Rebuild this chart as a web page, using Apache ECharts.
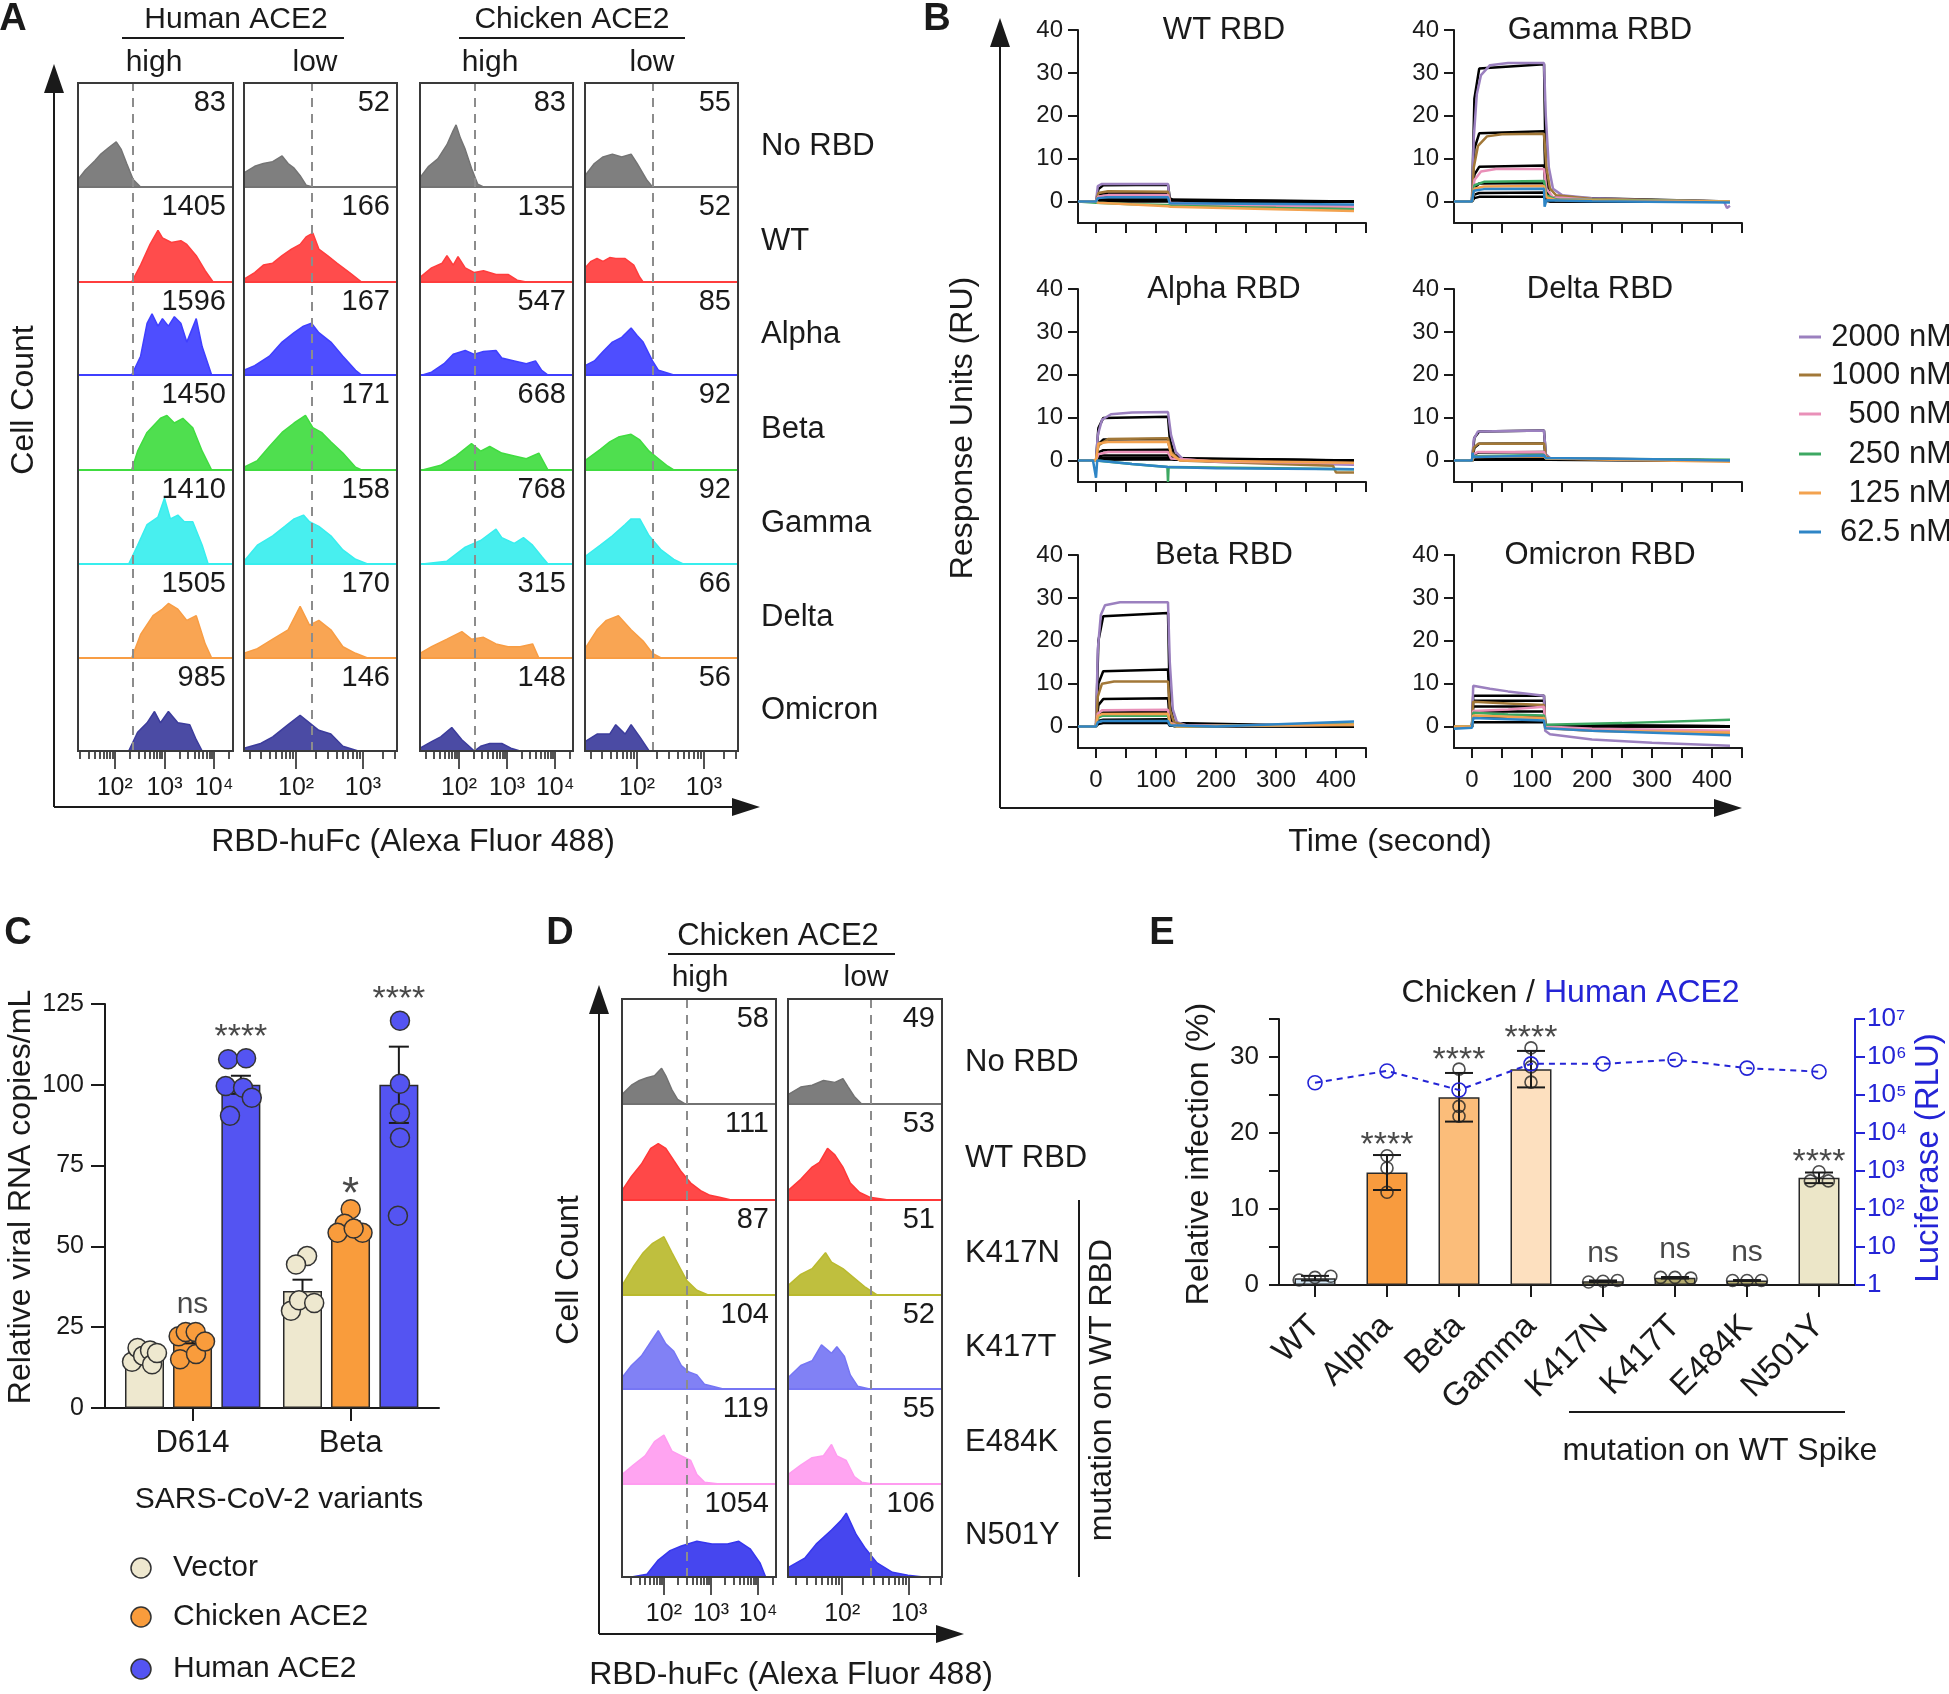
<!DOCTYPE html>
<html>
<head>
<meta charset="utf-8">
<title>ACE2 binding and infection</title>
<script src="https://cdn.jsdelivr.net/npm/echarts@6.0.0/dist/echarts.min.js"></script>
<style>
  html, body { margin: 0; padding: 0; background: #fff; }
  #main { width: 1949px; height: 1694px; }
</style>
</head>
<body>
<div id="main"></div>
<script>
// ================= data =================
// Panel A: flow cytometry, x in log10 of fluorescence, y in % of row height
const A_rows = ['No RBD', 'WT', 'Alpha', 'Beta', 'Gamma', 'Delta', 'Omicron'];
const A_colors = ['#747474', '#ff3d3d', '#3f3fff', '#40dc40', '#38eeee', '#f89d44', '#3c3c9c'];
const A_gates = [2.37, 2.24, 2.33, 2.24];
const A_mfiHumanHigh = [83, 1405, 1596, 1450, 1410, 1505, 985];
const A_mfiHumanLow = [52, 166, 167, 171, 158, 170, 146];
const A_mfiChickHigh = [83, 135, 547, 668, 768, 315, 148];
const A_mfiChickLow = [55, 52, 85, 92, 92, 66, 56];

const A_histHumanHigh = [
  [[1.26,8],[1.41,18],[1.60,28],[1.72,35],[1.88,42],[2.03,48],[2.13,40],[2.24,25],[2.37,8],[2.52,0]],
  [[2.34,0],[2.52,18],[2.71,40],[2.87,55],[2.96,47],[3.14,42],[3.33,44],[3.45,40],[3.64,28],[3.82,12],[3.98,0]],
  [[2.34,0],[2.52,20],[2.65,55],[2.75,65],[2.87,52],[2.96,60],[3.08,52],[3.20,62],[3.33,55],[3.45,35],[3.64,60],[3.76,30],[3.95,0]],
  [[2.34,0],[2.46,20],[2.65,40],[2.92,55],[3.05,58],[3.20,50],[3.37,55],[3.57,45],[3.76,20],[3.95,0]],
  [[2.28,0],[2.46,20],[2.65,42],[2.87,50],[3.00,70],[3.12,48],[3.27,52],[3.40,45],[3.57,45],[3.76,20],[3.88,0]],
  [[2.34,0],[2.52,25],[2.77,45],[2.96,52],[3.08,58],[3.27,52],[3.45,40],[3.64,45],[3.82,15],[3.95,0]],
  [[2.28,0],[2.46,20],[2.65,30],[2.80,42],[2.92,30],[3.08,42],[3.27,30],[3.51,28],[3.64,12],[3.76,0]]
];
const A_histHumanLow = [
  [[1.22,15],[1.38,22],[1.51,25],[1.65,27],[1.79,33],[1.88,25],[1.97,20],[2.06,12],[2.15,2],[2.25,0]],
  [[1.22,3],[1.38,10],[1.51,18],[1.65,20],[1.79,28],[1.93,35],[2.06,40],[2.15,48],[2.25,52],[2.34,35],[2.47,28],[2.61,20],[2.80,10],[2.98,0]],
  [[1.22,5],[1.38,10],[1.60,20],[1.79,35],[1.97,45],[2.11,52],[2.23,55],[2.34,45],[2.52,35],[2.70,20],[2.89,5],[2.98,0]],
  [[1.22,3],[1.42,10],[1.60,25],[1.79,40],[1.97,50],[2.14,58],[2.25,45],[2.38,40],[2.52,30],[2.70,18],[2.89,3],[2.98,0]],
  [[1.22,3],[1.42,20],[1.65,30],[1.83,40],[1.97,48],[2.11,52],[2.20,45],[2.34,40],[2.52,30],[2.70,15],[2.89,5],[3.07,0]],
  [[1.22,5],[1.42,10],[1.65,20],[1.88,30],[2.06,55],[2.20,35],[2.34,40],[2.52,30],[2.70,12],[2.89,5],[3.07,0]],
  [[1.22,3],[1.47,8],[1.65,15],[1.88,28],[2.06,38],[2.20,30],[2.34,22],[2.52,18],[2.70,5],[2.93,0]]
];
const A_histChickHigh = [
  [[1.19,10],[1.37,22],[1.56,30],[1.75,45],[1.88,60],[1.94,66],[2.03,52],[2.13,40],[2.26,20],[2.39,3],[2.51,0]],
  [[1.19,5],[1.43,15],[1.65,20],[1.75,28],[1.88,18],[1.98,27],[2.13,15],[2.32,10],[2.51,12],[2.77,8],[3.02,8],[3.21,2],[3.40,0]],
  [[1.24,0],[1.43,3],[1.69,12],[1.88,22],[2.13,26],[2.32,22],[2.51,25],[2.77,26],[2.89,18],[3.15,15],[3.40,12],[3.59,15],[3.72,5],[3.85,0]],
  [[1.24,0],[1.62,5],[1.94,15],[2.26,28],[2.45,20],[2.64,25],[2.89,18],[3.15,15],[3.40,12],[3.66,18],[3.85,0]],
  [[1.24,0],[1.75,3],[2.13,18],[2.45,25],[2.77,37],[2.89,28],[3.15,22],[3.34,28],[3.53,20],[3.72,8],[3.85,0]],
  [[1.19,5],[1.43,12],[1.75,20],[2.06,28],[2.26,20],[2.51,22],[2.77,15],[3.02,12],[3.27,12],[3.53,15],[3.66,0]],
  [[1.19,3],[1.43,10],[1.62,15],[1.85,25],[2.06,12],[2.32,0],[2.45,5],[2.64,8],[2.89,8],[3.08,3],[3.27,0]]
];
const A_histChickLow = [
  [[1.22,12],[1.36,25],[1.49,32],[1.63,35],[1.77,32],[1.91,35],[2.00,25],[2.14,8],[2.23,0]],
  [[1.22,15],[1.31,22],[1.40,25],[1.49,22],[1.59,26],[1.68,25],[1.82,25],[1.95,18],[2.04,5],[2.09,0]],
  [[1.22,10],[1.36,15],[1.49,25],[1.63,35],[1.77,40],[1.91,50],[2.00,42],[2.09,35],[2.23,15],[2.32,5],[2.55,0]],
  [[1.22,10],[1.45,22],[1.59,30],[1.72,35],[1.91,38],[2.04,32],[2.18,20],[2.32,12],[2.46,4],[2.55,0]],
  [[1.22,8],[1.45,20],[1.63,30],[1.82,42],[1.91,48],[2.04,48],[2.18,30],[2.36,15],[2.55,5],[2.69,0]],
  [[1.22,10],[1.40,30],[1.54,40],[1.72,45],[1.91,30],[2.09,18],[2.23,5],[2.36,0]],
  [[1.22,10],[1.40,18],[1.59,18],[1.68,28],[1.82,18],[1.91,28],[2.04,15],[2.18,0]]
];

// Panel B: SPR sensorgrams, [time s, response RU]
const B_titles = ['WT RBD', 'Gamma RBD', 'Alpha RBD', 'Delta RBD', 'Beta RBD', 'Omicron RBD'];
const B_conc = ['2000 nM', '1000 nM', '500 nM', '250 nM', '125 nM', '62.5 nM'];
const B_colors = ['#9b80bf', '#a27838', '#e990b8', '#3da862', '#f3a24f', '#2e85c6'];
const B_timeTicks = [0, 50, 100, 150, 200, 250, 300, 350, 400, 450];
const B_timeLabels = [0, 100, 200, 300, 400];
const B_ruTicks = [0, 10, 20, 30, 40];

const B_wt = [
  [[-30,0],[0,0],[3,3.6],[10,4.1],[120,4.1],[123,-0.3],[200,-0.6],[430,-1.0]],
  [[-30,0],[0,0],[4,2.0],[20,2.4],[120,2.3],[124,-0.6],[300,-1.0],[430,-1.4]],
  [[-30,0],[0,0],[4,1.2],[20,1.5],[120,1.5],[124,-0.5],[430,-1.2]],
  [[-30,0],[0,-0.3],[60,-0.6],[120,-0.8],[124,-1.0],[300,-1.5],[430,-1.8]],
  [[-30,0],[0,0],[4,-0.3],[120,-1.1],[124,-1.2],[300,-1.8],[430,-2.2]],
  [[-30,0],[0,0],[3,0.8],[20,1.0],[120,1.0],[123,-0.4],[430,-0.7]]
];
const B_wtFit = [
  [[0,0],[4,2.9],[12,3.8],[120,3.9],[123,0.8],[130,0.1],[430,0]],
  [[0,0],[4,1.5],[12,1.9],[120,2.0],[123,0.4],[130,0.1],[430,0]],
  [[0,0],[4,0.8],[12,1.0],[120,1.0],[123,0.2],[430,0]],
  [[0,0],[4,0.4],[12,0.5],[120,0.5],[123,0.1],[430,0]],
  [[0,0],[4,0.2],[120,0.25],[123,0],[430,0]],
  [[0,0],[120,0.1],[123,0],[430,0]]
];
const B_gamma = [
  [[-30,0],[0,0],[3,15],[8,25],[15,29.5],[30,31.8],[60,32.3],[120,32.3],[123,20],[128,8],[135,3],[150,1.5],[200,0.8],[300,0.3],[420,0],[425,-1.5],[430,-1.0]],
  [[-30,0],[0,0],[3,8],[10,13],[25,15.2],[50,15.7],[120,15.8],[124,8],[130,3],[140,1.5],[200,0.6],[430,0]],
  [[-30,0],[0,0],[4,5],[15,7],[40,7.6],[120,7.6],[124,3],[135,1],[200,0.4],[430,0]],
  [[-30,0],[0,0],[4,3.8],[20,4.6],[120,4.8],[124,1.5],[140,0.5],[430,0]],
  [[-30,0],[0,0],[4,3.0],[20,3.5],[120,3.6],[124,1],[140,0.3],[430,0]],
  [[-30,0],[0,0],[3,2.5],[20,2.9],[120,3.0],[121,-1.2],[124,0.3],[200,0.1],[430,-0.2]]
];
const B_gammaFit = [
  [[0,0],[4,24],[12,31],[120,32],[123,6.4],[130,1],[430,0]],
  [[0,0],[4,12.3],[12,15.9],[120,16.4],[123,3.3],[130,0.5],[430,0]],
  [[0,0],[4,6.3],[12,8.1],[120,8.4],[123,1.7],[130,0.3],[430,0]],
  [[0,0],[4,3.2],[12,4.2],[120,4.3],[123,0.9],[130,0.1],[430,0]],
  [[0,0],[4,1.6],[12,2.0],[120,2.1],[123,0.4],[130,0.1],[430,0]],
  [[0,0],[4,0.8],[12,1.1],[120,1.1],[123,0.2],[130,0],[430,0]]
];
const B_alpha = [
  [[-30,0],[0,0],[3,6],[10,9.5],[25,10.8],[60,11.2],[120,11.3],[125,6],[133,2],[145,0.3],[200,-0.3],[430,-1.0]],
  [[-30,0],[0,0],[4,3.5],[20,5.0],[120,5.2],[125,2],[140,0],[300,-0.8],[395,-1.2],[400,-2.8],[430,-2.8]],
  [[-30,0],[0,0],[4,1.5],[20,2.0],[120,2.0],[125,0.5],[200,-0.2],[430,-0.6]],
  [[-30,0],[0,0],[60,-0.8],[119,-1.5],[120,-5],[121,-1.5],[300,-1.8],[430,-2.0]],
  [[-30,0],[0,0],[4,4.0],[20,4.3],[120,4.4],[125,1.5],[140,0],[430,-0.5]],
  [[-30,0],[-5,0],[0,-4],[2,0],[60,-0.8],[120,-1.5],[200,-1.8],[430,-2.0]]
];
const B_alphaFit = [
  [[0,0],[4,7.6],[12,9.9],[120,10.2],[123,5],[130,1.5],[145,0.3],[430,0]],
  [[0,0],[4,3.8],[12,4.9],[120,5.0],[123,2.5],[130,0.8],[145,0.1],[430,0]],
  [[0,0],[4,1.9],[12,2.4],[120,2.5],[123,1.2],[130,0.4],[430,0]],
  [[0,0],[4,0.9],[12,1.2],[120,1.2],[123,0.6],[130,0.2],[430,0]],
  [[0,0],[4,0.5],[12,0.6],[120,0.6],[123,0.3],[430,0]],
  [[0,0],[4,0.2],[120,0.3],[123,0.1],[430,0]]
];
const B_delta = [
  [[-30,0],[0,0],[3,5],[10,6.8],[120,7.0],[123,1.5],[130,0.6],[430,0]],
  [[-30,0],[0,0],[3,3],[10,3.9],[120,4.0],[123,1],[130,0.5],[430,0]],
  [[-30,0],[0,0],[3,1.5],[10,2.0],[120,2.0],[123,0.6],[430,0]],
  [[-30,0],[0,0],[3,1.0],[120,1.3],[123,0.5],[430,0.2]],
  [[-30,0],[0,0],[3,0.8],[120,1.0],[123,0.5],[430,-0.3]],
  [[-30,0],[0,0],[1,1.8],[3,0.8],[120,1.2],[123,0.6],[300,0.3],[430,0]]
];
const B_deltaFit = [
  [[0,0],[4,5.3],[12,6.8],[120,7.0],[123,1.4],[130,0.4],[430,0]],
  [[0,0],[4,3.0],[12,3.9],[120,4.0],[123,0.8],[130,0.2],[430,0]],
  [[0,0],[4,1.5],[12,1.9],[120,2.0],[123,0.4],[430,0]],
  [[0,0],[4,0.8],[12,1.0],[120,1.0],[123,0.2],[430,0]],
  [[0,0],[4,0.4],[120,0.5],[123,0.1],[430,0]],
  [[0,0],[4,0.2],[120,0.25],[123,0],[430,0]]
];
const B_beta = [
  [[-30,0],[0,0],[3,18],[8,26],[15,28.3],[40,29],[120,29],[123,15],[128,4],[135,1],[150,0.3],[300,0.2],[430,0.5]],
  [[-30,0],[0,0],[3,7],[10,10],[30,10.5],[120,10.5],[123,4],[130,1],[150,0.2],[430,0.3]],
  [[-30,0],[0,0],[3,3],[10,3.8],[120,3.9],[123,1],[135,0.2],[430,0.5]],
  [[-30,0],[0,0],[3,2],[10,2.5],[120,2.5],[123,0.6],[135,0],[430,0.6]],
  [[-30,0],[0,0],[3,2.5],[10,2.9],[120,3.0],[123,0.8],[135,0],[430,0.5]],
  [[-30,0],[0,0],[3,1.0],[10,1.3],[120,1.3],[123,0.3],[200,0],[430,1.2]]
];
const B_betaFit = [
  [[0,0],[4,20],[12,25.7],[120,26.5],[123,5.3],[130,0.8],[430,0]],
  [[0,0],[4,10],[12,12.9],[120,13.3],[123,2.7],[130,0.4],[430,0]],
  [[0,0],[4,5],[12,6.4],[120,6.6],[123,1.3],[130,0.2],[430,0]],
  [[0,0],[4,2.5],[12,3.3],[120,3.4],[123,0.7],[130,0.1],[430,0]],
  [[0,0],[4,1.3],[12,1.6],[120,1.7],[123,0.3],[430,0]],
  [[0,0],[4,0.6],[12,0.8],[120,0.8],[123,0.2],[430,0]]
];
const B_omicron = [
  [[-30,0],[0,0],[2,9.5],[30,8.8],[60,8.2],[120,7.2],[122,-1],[130,-1.8],[200,-3],[300,-3.8],[430,-4.5]],
  [[-30,0],[0,0],[2,5.8],[60,5.4],[120,5.0],[122,-0.3],[200,-1.0],[430,-1.6]],
  [[-30,0],[0,0],[2,3.6],[60,4.0],[120,4.6],[122,0],[200,-0.5],[430,-1.0]],
  [[-30,0],[0,0],[2,3.2],[60,2.8],[120,2.6],[122,0.4],[250,0.8],[430,1.6]],
  [[-30,0],[0,0],[2,2.6],[60,2.3],[120,2.0],[122,-0.4],[200,-1.0],[430,-1.4]],
  [[-30,-0.5],[0,-0.3],[2,2.0],[60,1.7],[120,1.4],[122,-0.4],[200,-1.0],[430,-2.0]]
];
const B_omicronFit = [
  [[0,0],[2,7.2],[120,7.2],[122,0.3],[430,0.1]],
  [[0,0],[2,6.0],[120,6.0],[122,0.3],[430,0.1]],
  [[0,0],[2,4.7],[120,4.7],[122,0.2],[430,0.1]],
  [[0,0],[2,3.5],[120,3.5],[122,0.2],[430,0.1]],
  [[0,0],[2,2.2],[120,2.2],[122,0.1],[430,0]],
  [[0,0],[2,1.0],[120,1.0],[122,0.1],[430,0]]
];

// Panel C: relative viral RNA
const C_groups = ['D614', 'Beta'];
const C_names = ['Vector', 'Chicken ACE2', 'Human ACE2'];
const C_colors = ['#eee8cf', '#f99c3c', '#5454f2'];
const C_vector = [15.5, 36.2];
const C_vectorErr = [1.0, 3.5];
const C_chicken = [21.4, 56.3];
const C_chickenErr = [1.4, 1.5];
const C_human = [100, 100];
const C_humanErr = [2.8, 11.8];
const C_vectorDots = [[0.617,14.3],[0.652,18.6],[0.687,16.2],[0.731,17.8],[0.744,13.5],[0.775,17.0],
  [1.725,47.0],[1.655,44.4],[1.623,30.1],[1.674,33.3],[1.770,32.5]];
const C_chickenDots = [[0.921,15.1],[0.912,22.2],[0.957,23.5],[1.020,23.5],[1.022,16.7],[1.079,20.6],
  [2.001,61.5],[1.963,57.0],[1.918,54.2],[2.076,54.2],[2.020,55.5]];
const C_humanDots = [[1.225,107.9],[1.339,108.2],[1.210,99.6],[1.320,99.1],[1.375,96.0],[1.237,90.4],
  [2.313,119.8],[2.313,100.3],[2.313,91.2],[2.313,83.6],[2.300,59.5]];
const C_sig = [['', 'ns', '****'], ['', '*', '****']];

// Panel D: chicken ACE2 flow cytometry with RBD mutants
const D_rows = ['No RBD', 'WT RBD', 'K417N', 'K417T', 'E484K', 'N501Y'];
const D_colors = ['#727272', '#ff3838', '#baba2e', '#7676f4', '#ff9cf0', '#3636ee'];
const D_gates = [2.49, 2.43];
const D_mfiHigh = [58, 111, 87, 104, 119, 1054];
const D_mfiLow = [49, 53, 51, 52, 55, 106];
const D_histHigh = [
  [[1.11,10],[1.31,20],[1.48,25],[1.64,28],[1.80,30],[1.95,38],[2.04,30],[2.17,15],[2.29,5],[2.45,0]],
  [[1.11,10],[1.31,25],[1.52,38],[1.72,55],[1.88,60],[2.04,55],[2.21,42],[2.37,30],[2.57,18],[2.78,10],[2.98,5],[3.18,3],[3.43,0]],
  [[1.11,10],[1.35,30],[1.56,45],[1.76,55],[2.00,62],[2.17,45],[2.33,30],[2.49,15],[2.70,5],[2.94,0]],
  [[1.11,12],[1.31,25],[1.52,35],[1.72,50],[1.88,62],[2.04,48],[2.21,40],[2.37,25],[2.53,18],[2.70,15],[2.86,5],[3.26,0]],
  [[1.11,10],[1.35,20],[1.60,30],[1.80,45],[2.00,52],[2.17,35],[2.37,30],[2.57,25],[2.70,10],[2.86,2],[3.18,0]],
  [[1.31,0],[1.64,3],[1.88,18],[2.13,28],[2.37,33],[2.70,38],[3.02,35],[3.35,35],[3.59,38],[3.83,30],[4.04,15],[4.16,0]]
];
const D_histLow = [
  [[1.19,10],[1.38,18],[1.55,20],[1.72,25],[1.89,23],[2.01,27],[2.09,18],[2.18,8],[2.29,0]],
  [[1.19,10],[1.38,22],[1.55,35],[1.66,40],[1.78,55],[1.89,48],[2.01,35],[2.12,18],[2.26,8],[2.41,3],[2.69,0]],
  [[1.19,10],[1.38,22],[1.55,28],[1.75,45],[1.84,35],[2.01,28],[2.18,18],[2.35,8],[2.52,0]],
  [[1.19,12],[1.38,25],[1.55,30],[1.69,47],[1.84,38],[1.92,45],[2.03,35],[2.12,15],[2.23,3],[2.41,0]],
  [[1.19,10],[1.38,20],[1.55,28],[1.72,30],[1.84,42],[1.92,30],[2.06,25],[2.18,8],[2.29,2],[2.46,0]],
  [[1.19,10],[1.44,20],[1.61,35],[1.84,50],[1.98,60],[2.06,68],[2.21,45],[2.35,30],[2.52,15],[2.75,5],[2.98,2],[3.21,0]]
];

// Panel E: relative infection and luciferase
const E_cats = ['WT', 'Alpha', 'Beta', 'Gamma', 'K417N', 'K417T', 'E484K', 'N501Y'];
const E_colors = ['#d3e6f4', '#f89b3e', '#fbbd7a', '#fde0bf', '#b3aa6e', '#b3aa6e', '#b3aa6e', '#ece6c8'];
const E_means = [0.9, 14.8, 24.7, 28.4, 0.5, 0.95, 0.6, 14.1];
const E_sd = [0.3, 2.3, 3.2, 2.4, 0.1, 0.1, 0.05, 0.7];
const E_dots = [[-0.22,0.65],[0,1.0],[0.22,1.15],[1,17.0],[1,15.4],[1,12.2],[2,28.4],[2,23.5],[2,22.2],
  [3,31.2],[3,28.7],[3,26.7],[3.8,0.4],[4,0.5],[4.2,0.6],[4.8,1.0],[5,1.0],[5.22,0.9],
  [5.8,0.6],[6,0.6],[6.2,0.6],[6.88,13.7],[7,14.9],[7.13,13.7]];
const E_sig = ['', '****', '****', '****', 'ns', 'ns', 'ns', '****'];
const E_luciferase = [2.1e5, 4.3e5, 1.35e5, 6.6e5, 6.6e5, 8.5e5, 5.1e5, 4.1e5];

// ================= layout =================
const FONT = 'Arial, "Liberation Sans", Helvetica, sans-serif';
const INK = '#1a1a1a';
const BLUE = '#2424d6';
const ROW_H = 94;
const SUP = {0: '⁰', 1: '¹', 2: '²', 3: '³', 4: '⁴', 5: '⁵', 6: '⁶', 7: '⁷'};

const A_TOP = 83;
const A_BASE = [187, 282, 375, 470, 564, 658, 751];
const A_BOX = [
  {l: 78, r: 233, min: 1.26, max: 4.38, majors: [2, 3, 4]},
  {l: 244, r: 397, min: 1.22, max: 3.51, majors: [2, 3]},
  {l: 420, r: 573, min: 1.19, max: 4.37, majors: [2, 3, 4]},
  {l: 585, r: 738, min: 1.22, max: 3.51, majors: [2, 3]}
];
const D_TOP = 999;
const D_BASE = [1104, 1200, 1295, 1389, 1484, 1577];
const D_BOX = [
  {l: 622, r: 776, min: 1.11, max: 4.38, majors: [2, 3, 4]},
  {l: 788, r: 942, min: 1.19, max: 3.49, majors: [2, 3]}
];
const B_POS = [{l: 1078, t: 30}, {l: 1454, t: 30}, {l: 1078, t: 289}, {l: 1454, t: 289}, {l: 1078, t: 555}, {l: 1454, t: 555}];

const grids = [], xAxes = [], yAxes = [], series = [], graphics = [];
function addGrid(g) { grids.push(g); return grids.length - 1; }
function addX(a) { xAxes.push(a); return xAxes.length - 1; }
function addY(a) { yAxes.push(a); return yAxes.length - 1; }

function addText(x, y, text, size, o) {
  o = o || {};
  const align = o.align || 'center', va = o.va || 'middle';
  graphics.push({
    type: 'text', x: x, y: y, rotation: o.rot || 0, z: 100, silent: true,
    style: {
      text: String(text), fontSize: size, fontFamily: FONT, fontWeight: o.bold ? 'bold' : 'normal',
      fill: o.color || INK, align: align, verticalAlign: va, textAlign: align, textVerticalAlign: va
    }
  });
}
function addLine(x1, y1, x2, y2, w, color) {
  graphics.push({type: 'line', z: 100, silent: true, shape: {x1: x1, y1: y1, x2: x2, y2: y2},
    style: {stroke: color || INK, lineWidth: w || 2}});
}
function addPoly(points) {
  graphics.push({type: 'polygon', z: 100, silent: true, shape: {points: points}, style: {fill: INK}});
}
function addRect(x, y, w, h) {
  graphics.push({type: 'rect', z: 100, silent: true, shape: {x: x, y: y, width: w, height: h},
    style: {fill: 'none', stroke: '#3a3a3a', lineWidth: 2}});
}
function arrowUp(x, yTop, yBottom) {
  addLine(x, yBottom, x, yTop + 20, 2);
  addPoly([[x, yTop], [x - 10, yTop + 29], [x + 10, yTop + 29]]);
}
function arrowRight(y, xLeft, xTip) {
  addLine(xLeft, y, xTip - 20, y, 2);
  addPoly([[xTip, y], [xTip - 28, y - 9], [xTip - 28, y + 9]]);
}

// histogram column (one box, several rows)
function histColumn(box, gate, top0, bases, hists, colors, mfis) {
  const w = box.r - box.l;
  addRect(box.l, top0, w, bases[bases.length - 1] - top0);
  hists.forEach(function (h, i) {
    const top = i === 0 ? top0 : bases[i - 1];
    const hgt = bases[i] - top;
    const g = addGrid({left: box.l, top: top, width: w, height: hgt});
    const xi = addX({type: 'value', gridIndex: g, min: box.min, max: box.max, position: 'bottom',
      axisLine: {show: true, onZero: false, lineStyle: {color: colors[i], width: 2}},
      axisTick: {show: false}, axisLabel: {show: false}, splitLine: {show: false}});
    const yi = addY({type: 'value', gridIndex: g, min: 0, max: 100 * hgt / ROW_H, show: false});
    series.push({
      type: 'line', xAxisIndex: xi, yAxisIndex: yi, data: h, symbol: 'none', silent: true,
      lineStyle: {color: colors[i], width: 1.5}, areaStyle: {color: colors[i], opacity: 0.92},
      markLine: {symbol: ['none', 'none'], silent: true, label: {show: false},
        lineStyle: {color: '#8c8c8c', type: [9, 7], width: 2}, data: [{xAxis: gate}]}
    });
    addText(box.r - 7, top + 20, mfis[i], 29, {align: 'right'});
    if (i === hists.length - 1) {
      const minors = [];
      for (let n = 0; n <= 4; n++) {
        for (let k = 2; k <= 9; k++) {
          const v = Math.log10(k * Math.pow(10, n));
          if (v > box.min && v < box.max) minors.push(v);
        }
      }
      addX({type: 'value', gridIndex: g, min: box.min, max: box.max, position: 'bottom',
        axisLine: {show: false}, axisTick: {show: true, customValues: minors, length: 8, lineStyle: {color: INK, width: 1.5}},
        axisLabel: {show: false}, splitLine: {show: false}});
      addX({type: 'value', gridIndex: g, min: box.min, max: box.max, position: 'bottom',
        axisLine: {show: false}, axisTick: {show: true, customValues: box.majors, length: 18, lineStyle: {color: INK, width: 1.5}},
        axisLabel: {show: true, customValues: box.majors, formatter: function (v) { return '10' + SUP[Math.round(v)]; },
          fontSize: 25, margin: 25, color: INK, fontFamily: FONT},
        splitLine: {show: false}});
    }
  });
}

// significance labels: one scatter series per label style
function sigSeries(xi, yi, data, size, dist) {
  series.push({type: 'scatter', xAxisIndex: xi, yAxisIndex: yi, data: data, symbolSize: 0, silent: true, z: 6,
    label: {show: true, position: 'top', distance: dist, color: INK, fontFamily: FONT, fontSize: size,
      formatter: function (p) { return p.data[2]; }}});
}

// ---------- Panel A ----------
addText(13, 20, 'A', 38, {bold: true});
addText(236, 20, 'Human ACE2', 30);
addText(572, 20, 'Chicken ACE2', 30);
addLine(122, 38, 344, 38, 2);
addLine(459, 38, 685, 38, 2);
addText(154, 63, 'high', 30); addText(315, 63, 'low', 30);
addText(490, 63, 'high', 30); addText(652, 63, 'low', 30);
histColumn(A_BOX[0], A_gates[0], A_TOP, A_BASE, A_histHumanHigh, A_colors, A_mfiHumanHigh);
histColumn(A_BOX[1], A_gates[1], A_TOP, A_BASE, A_histHumanLow, A_colors, A_mfiHumanLow);
histColumn(A_BOX[2], A_gates[2], A_TOP, A_BASE, A_histChickHigh, A_colors, A_mfiChickHigh);
histColumn(A_BOX[3], A_gates[3], A_TOP, A_BASE, A_histChickLow, A_colors, A_mfiChickLow);
A_rows.forEach(function (r, i) { addText(761, A_BASE[i] - 41, r, 31, {align: 'left'}); });
arrowUp(54, 64, 807);
arrowRight(807, 54, 760);
addText(24, 400, 'Cell Count', 32, {rot: Math.PI / 2});
addText(413, 842, 'RBD-huFc (Alexa Fluor 488)', 32);

// ---------- Panel B ----------
addText(937, 20, 'B', 38, {bold: true});
const B_curves = [B_wt, B_gamma, B_alpha, B_delta, B_beta, B_omicron];
const B_fits = [B_wtFit, B_gammaFit, B_alphaFit, B_deltaFit, B_betaFit, B_omicronFit];
B_POS.forEach(function (pos, p) {
  const g = addGrid({left: pos.l, top: pos.t, width: 288, height: 193});
  const lastRow = p >= 4;
  const xi = addX({type: 'value', gridIndex: g, min: -30, max: 450,
    axisLine: {show: true, onZero: false, lineStyle: {color: INK, width: 2}},
    axisTick: {show: true, customValues: B_timeTicks, length: 10, lineStyle: {color: INK, width: 2}},
    axisLabel: {show: lastRow, customValues: B_timeLabels, fontSize: 24, margin: 20, color: INK, fontFamily: FONT},
    splitLine: {show: false}});
  const yi = addY({type: 'value', gridIndex: g, min: -5, max: 40,
    axisLine: {show: true, onZero: false, lineStyle: {color: INK, width: 2}},
    axisTick: {show: true, customValues: B_ruTicks, length: 10, lineStyle: {color: INK, width: 2}},
    axisLabel: {customValues: B_ruTicks, fontSize: 24, margin: 15, color: INK, fontFamily: FONT},
    splitLine: {show: false}});
  B_fits[p].forEach(function (c) {
    series.push({type: 'line', xAxisIndex: xi, yAxisIndex: yi, data: c, symbol: 'none', silent: true,
      lineStyle: {color: '#000', width: 2.5}, z: 3});
  });
  B_curves[p].forEach(function (c, k) {
    series.push({type: 'line', xAxisIndex: xi, yAxisIndex: yi, data: c, symbol: 'none', silent: true,
      lineStyle: {color: B_colors[k], width: 2.5}, z: 4});
  });
  addText(pos.l + 146, pos.t, B_titles[p], 31);
});
const B_legendY = [337, 375, 414, 454, 493, 532];
B_conc.forEach(function (c, k) {
  addLine(1799, B_legendY[k], 1821, B_legendY[k], 3, B_colors[k]);
  addText(1952, B_legendY[k], c, 31, {align: 'right'});
});
arrowUp(1000, 18, 808);
arrowRight(808, 1000, 1742);
addText(963, 428, 'Response Units (RU)', 32, {rot: Math.PI / 2});
addText(1390, 842, 'Time (second)', 32);

// ---------- Panel C ----------
addText(18, 934, 'C', 38, {bold: true});
const C_offset = [-0.304, 0, 0.306];
const gC = addGrid({left: 105, top: 1004, width: 334, height: 404});
const xC = addX({type: 'value', gridIndex: gC, min: 0.446, max: 2.56,
  axisLine: {show: true, onZero: false, lineStyle: {color: INK, width: 2}},
  axisTick: {show: true, customValues: [1, 2], length: 13, lineStyle: {color: INK, width: 2}},
  axisLabel: {customValues: [1, 2], formatter: function (v) { return C_groups[Math.round(v) - 1]; },
    fontSize: 31, margin: 20, color: INK, fontFamily: FONT},
  splitLine: {show: false}});
const yC = addY({type: 'value', gridIndex: gC, min: 0, max: 125, interval: 25,
  axisLine: {show: true, onZero: false, lineStyle: {color: INK, width: 2}},
  axisTick: {show: true, length: 14, lineStyle: {color: INK, width: 2}},
  axisLabel: {fontSize: 25, margin: 21, color: INK, fontFamily: FONT},
  splitLine: {show: false}});
const C_means = [C_vector, C_chicken, C_human];
const C_errs = [C_vectorErr, C_chickenErr, C_humanErr];
const C_dots = [C_vectorDots, C_chickenDots, C_humanDots];
const cBars = [], cErr = [], cSig = [];
C_groups.forEach(function (g, gi) {
  C_names.forEach(function (n, s) {
    const x = gi + 1 + C_offset[s];
    const m = C_means[s][gi], e = C_errs[s][gi];
    cBars.push({value: [x, m], itemStyle: {color: C_colors[s]}});
    cErr.push([x, m - e, m + e]);
    let top = m + e;
    C_dots[s].forEach(function (d) { if (Math.abs(d[0] - x) < 0.15) top = Math.max(top, d[1]); });
    if (C_sig[gi][s]) cSig.push([x, top, C_sig[gi][s]]);
  });
});
series.push({type: 'bar', xAxisIndex: xC, yAxisIndex: yC, data: cBars, barWidth: 39, silent: true,
  itemStyle: {borderColor: '#2a2a2a', borderWidth: 1.5}, z: 2});
function errRenderer(cap) {
  return function (params, api) {
    const x = api.value(0), lo = api.value(1), hi = api.value(2);
    const a = api.coord([x, lo]), b = api.coord([x, hi]);
    const st = {stroke: '#1a1a1a', lineWidth: 2};
    return {type: 'group', children: [
      {type: 'line', shape: {x1: a[0], y1: a[1], x2: b[0], y2: b[1]}, style: st},
      {type: 'line', shape: {x1: b[0] - cap, y1: b[1], x2: b[0] + cap, y2: b[1]}, style: st},
      {type: 'line', shape: {x1: a[0] - cap, y1: a[1], x2: a[0] + cap, y2: a[1]}, style: st}
    ]};
  };
}
series.push({type: 'custom', xAxisIndex: xC, yAxisIndex: yC, data: cErr, renderItem: errRenderer(10),
  encode: {x: 0, y: [1, 2]}, silent: true, z: 3});
C_dots.forEach(function (d, s) {
  series.push({type: 'scatter', xAxisIndex: xC, yAxisIndex: yC, data: d, symbolSize: 19, silent: true,
    itemStyle: {color: C_colors[s], borderColor: '#333', borderWidth: 1.5, opacity: 1}, z: 4});
});
sigSeries(xC, yC, cSig.filter(function (d) { return d[2] === '****'; }), 34, 4);
sigSeries(xC, yC, cSig.filter(function (d) { return d[2] === 'ns'; }), 30, 12);
sigSeries(xC, yC, cSig.filter(function (d) { return d[2] === '*'; }), 44, -9);
addText(21, 1197, 'Relative viral RNA copies/mL', 32, {rot: Math.PI / 2});
addText(279, 1500, 'SARS-CoV-2 variants', 30);
const C_legendY = [1568, 1617, 1669];
C_names.forEach(function (n, s) {
  graphics.push({type: 'circle', z: 100, silent: true, shape: {cx: 141, cy: C_legendY[s], r: 10},
    style: {fill: C_colors[s], stroke: '#333', lineWidth: 1.5}});
  addText(173, C_legendY[s], n, 30, {align: 'left'});
});

// ---------- Panel D ----------
addText(560, 934, 'D', 38, {bold: true});
addText(778, 936, 'Chicken ACE2', 31);
addLine(668, 954, 895, 954, 2);
addText(700, 978, 'high', 30); addText(866, 978, 'low', 30);
histColumn(D_BOX[0], D_gates[0], D_TOP, D_BASE, D_histHigh, D_colors, D_mfiHigh);
histColumn(D_BOX[1], D_gates[1], D_TOP, D_BASE, D_histLow, D_colors, D_mfiLow);
D_rows.forEach(function (r, i) { addText(965, D_BASE[i] - 42, r, 31, {align: 'left'}); });
addLine(1079, 1200, 1079, 1577, 2);
addText(1102, 1390, 'mutation on WT RBD', 32, {rot: Math.PI / 2});
arrowUp(599, 985, 1634);
arrowRight(1634, 599, 964);
addText(569, 1270, 'Cell Count', 32, {rot: Math.PI / 2});
addText(791, 1675, 'RBD-huFc (Alexa Fluor 488)', 32);

// ---------- Panel E ----------
addText(1162, 934, 'E', 38, {bold: true});
const gE = addGrid({left: 1279, top: 1019, width: 576, height: 266});
const xE = addX({type: 'category', gridIndex: gE, data: E_cats,
  axisLine: {show: true, onZero: false, lineStyle: {color: INK, width: 2}},
  axisTick: {show: true, alignWithLabel: true, length: 12, lineStyle: {color: INK, width: 2}},
  axisLabel: {interval: 0, rotate: 45, fontSize: 33, margin: 36, color: INK, fontFamily: FONT}});
const xE2 = addX({type: 'value', gridIndex: gE, min: -0.5, max: 7.5, show: false});
const yE = addY({type: 'value', gridIndex: gE, min: 0, max: 35, interval: 5,
  axisLine: {show: true, onZero: false, lineStyle: {color: INK, width: 2}},
  axisTick: {show: true, length: 10, lineStyle: {color: INK, width: 2}},
  axisLabel: {customValues: [0, 10, 20, 30], fontSize: 26, margin: 20, color: INK, fontFamily: FONT},
  splitLine: {show: false}});
const yE2 = addY({type: 'value', gridIndex: gE, position: 'right', min: 0, max: 7, interval: 1,
  axisLine: {show: true, onZero: false, lineStyle: {color: BLUE, width: 2}},
  axisTick: {show: true, length: 10, lineStyle: {color: BLUE, width: 2}},
  axisLabel: {fontSize: 26, margin: 12, color: BLUE, fontFamily: FONT,
    formatter: function (v) { return v === 0 ? '1' : (v === 1 ? '10' : '10' + SUP[v]); }},
  splitLine: {show: false}});
series.push({type: 'bar', xAxisIndex: xE, yAxisIndex: yE, barWidth: 41, silent: true, z: 2,
  data: E_means.map(function (m, i) { return {value: m, itemStyle: {color: E_colors[i]}}; }),
  itemStyle: {borderColor: '#2a2a2a', borderWidth: 1.5}});
series.push({type: 'custom', xAxisIndex: xE2, yAxisIndex: yE, renderItem: errRenderer(14), silent: true, z: 3,
  encode: {x: 0, y: [1, 2]},
  data: E_means.map(function (m, i) { return [i, m - E_sd[i], m + E_sd[i]]; })});
series.push({type: 'scatter', xAxisIndex: xE2, yAxisIndex: yE, data: E_dots, symbolSize: 12, silent: true, z: 4,
  itemStyle: {color: 'rgba(0,0,0,0)', borderColor: '#222', borderWidth: 1.6}});
series.push({type: 'line', xAxisIndex: xE, yAxisIndex: yE2, silent: true, z: 5,
  data: E_luciferase.map(function (v) { return Math.log10(v); }),
  symbol: 'circle', symbolSize: 14,
  lineStyle: {color: BLUE, width: 2, type: [6, 5]},
  itemStyle: {color: 'rgba(255,255,255,0)', borderColor: BLUE, borderWidth: 1.6}});
const eSig = [];
E_sig.forEach(function (s, i) {
  if (!s) return;
  let top = E_means[i] + E_sd[i];
  E_dots.forEach(function (d) { if (Math.abs(d[0] - i) < 0.4) top = Math.max(top, d[1]); });
  eSig.push([i, top, s]);
});
sigSeries(xE2, yE, eSig.filter(function (d) { return d[2] === '****'; }), 34, -8);
sigSeries(xE2, yE, eSig.filter(function (d) { return d[2] === 'ns'; }), 30, 12);
addText(1535, 993, 'Chicken /', 32, {align: 'right'});
addText(1544, 993, 'Human ACE2', 32, {align: 'left', color: BLUE});
addText(1199, 1154, 'Relative infection (%)', 32, {rot: Math.PI / 2});
addText(1929, 1158, 'Luciferase (RLU)', 33, {rot: Math.PI / 2, color: BLUE});
addLine(1569, 1412, 1845, 1412, 2);
addText(1720, 1451, 'mutation on WT Spike', 32);

// ================= chart =================
const chart = echarts.init(document.getElementById('main'), null, {renderer: 'canvas'});
chart.setOption({
  animation: false,
  backgroundColor: '#ffffff',
  textStyle: {fontFamily: FONT},
  grid: grids,
  xAxis: xAxes,
  yAxis: yAxes,
  series: series,
  graphic: {elements: graphics}
});
</script>
</body>
</html>
